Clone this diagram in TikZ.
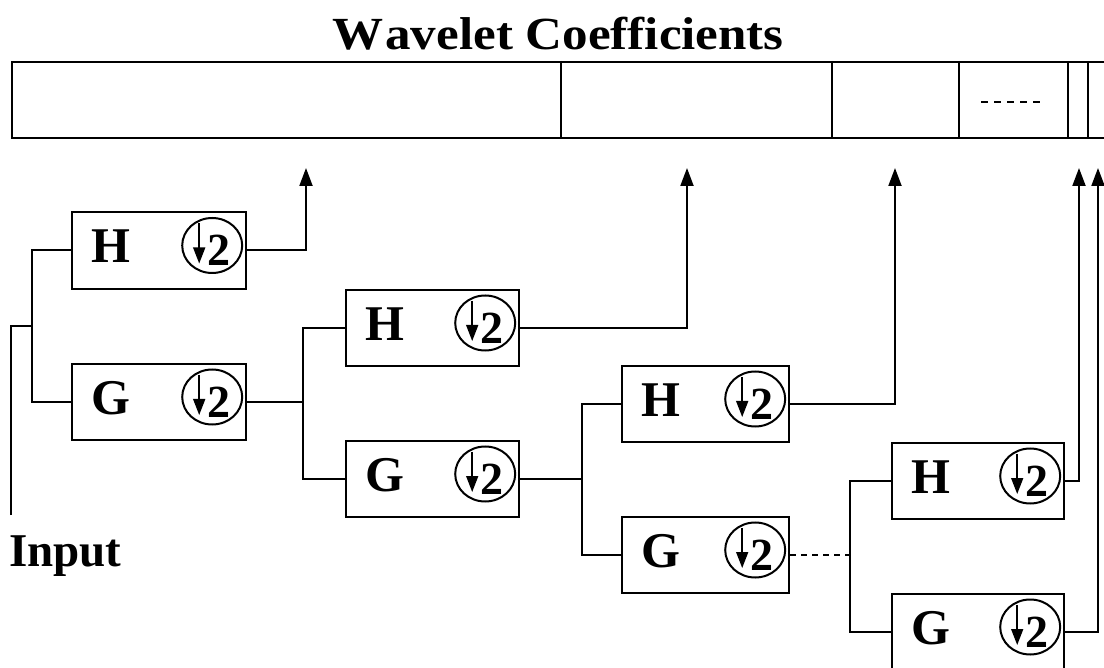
\documentclass[tikz,border=0pt]{standalone}
\usepackage{fontspec}
\setmainfont{Liberation Serif}
\usetikzlibrary{arrows.meta,shapes.geometric,calc}
\newcommand\filterblock[6]{%
  \pgfmathsetmacro\fbw{#4-#2}\pgfmathsetmacro\fbh{#5-#3}%
  \pgfmathsetmacro\fbx{(#2+#4)/2}\pgfmathsetmacro\fby{(#3+#5)/2}%
  \node[fbox, minimum width=\fbw pt, minimum height=\fbh pt] (#1) at (\fbx,\fby) {};
  \node[lab] (#1l) at ($(#1.west)+(40,-4)$) {#6};
  \node[ds] (#1c) at ($(#1.east)+(-35,-5)$) {};
  \draw[darr] ($(#1c.center)+(-13,-22)$) -- ($(#1c.center)+(-13,18)$);
  \node[two] (#1t) at ($(#1c.center)+(7,5)$) {2};
}
\begin{document}
\begin{tikzpicture}[x=1pt,y=-1pt,
  fbox/.style={draw, line width=2.4pt, rectangle, inner sep=0pt},
  ds/.style={draw, ellipse, line width=2pt, minimum width=60pt, minimum height=55pt, inner sep=0pt},
  lab/.style={font=\fontsize{50}{54}\selectfont\bfseries, inner sep=0pt},
  two/.style={font=\fontsize{46}{50}\selectfont\bfseries, inner sep=0pt},
  darr/.style={line width=1.6pt, -{Triangle[length=16pt,width=12pt]}},
  conn/.style={line width=2pt},
  uparr/.style={conn, -{Triangle[length=18pt,width=13pt]}},
  dconn/.style={conn, dash pattern=on 6pt off 5pt},
  bline/.style={line width=2.2pt},
  titlefont/.style={font=\fontsize{46}{50}\selectfont\bfseries, inner sep=0pt},
  inlab/.style={font=\fontsize{47}{50}\selectfont\bfseries, inner sep=0pt},
]
\useasboundingbox[fill=white] (0,0) rectangle (1104,668);

% title and coefficient bar
\node[titlefont, anchor=base] (title) at (558,50) {\scalebox{1.11}[1]{W\kern2pt avelet Coefficients}};
\node[fbox, minimum width=1100pt, minimum height=76pt] (bar) at (562,100) {};
\foreach \dx in {561,832,959,1068,1088}
  \draw[bline] (\dx,0 |- bar.north) -- (\dx,0 |- bar.south);
\draw[line width=2pt, dash pattern=on 7pt off 6pt] (981,102) -- (1044,102);

% filter blocks
\filterblock{H1}{72}{212}{246}{289}{H}
\filterblock{G1}{72}{364}{246}{440}{G}
\filterblock{H2}{346}{290}{519}{366}{H}
\filterblock{G2}{346}{441}{519}{517}{G}
\filterblock{H3}{622}{366}{789}{442}{H}
\filterblock{G3}{622}{517}{789}{593}{G}
\filterblock{H4}{892}{443}{1064}{519}{H}
\filterblock{G4}{892}{594}{1064}{670}{G}

% input
\node[inlab, anchor=base west] (input) at (9,566) {Input};
\coordinate (inp) at (11,515);
\coordinate (s1) at (32,326);
\draw[conn] (inp) |- (s1);
\draw[conn] (H1.west) -| (s1) |- (G1.west);

% splits
\coordinate (s2) at (303,0 |- G1.east);
\draw[conn] (G1.east) -- (s2);
\draw[conn] (H2.west) -| (s2) |- (G2.west);
\coordinate (s3) at (582,0 |- G2.east);
\draw[conn] (G2.east) -- (s3);
\draw[conn] (H3.west) -| (s3) |- (G3.west);
\coordinate (s4) at (850,0 |- G3.east);
\draw[dconn] (G3.east) -- (s4);
\draw[conn] (H4.west) -| (s4) |- (G4.west);

% outputs to coefficient bar
\coordinate (a1) at (306,168);
\coordinate (a2) at (687,168);
\coordinate (a3) at (895,168);
\coordinate (a4) at (1079,168);
\coordinate (a5) at (1098,168);
\draw[uparr] (H1.east) -| (a1);
\draw[uparr] (H2.east) -| (a2);
\draw[uparr] (H3.east) -| (a3);
\draw[uparr] (H4.east) -| (a4);
\draw[uparr] (G4.east) -| (a5);
\end{tikzpicture}
\end{document}
